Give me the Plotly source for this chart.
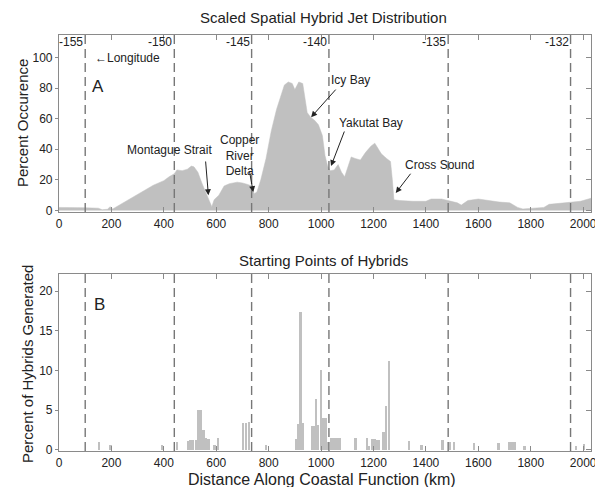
import plotly.graph_objects as go

# ---------------- data ----------------
dist_km = [0, 50, 100, 150, 165, 185, 195, 205, 225, 240, 260, 280, 300, 320, 340, 360, 380, 400,
           420, 440, 450, 470, 490, 505, 515, 530, 545, 560, 575, 583, 592, 610, 630, 650, 680,
           700, 720, 735, 745, 755, 770, 790, 810, 830, 845, 860, 875, 890, 900, 915, 930, 937,
           947, 960, 975, 990, 1005, 1015, 1025, 1035, 1050, 1065, 1078, 1090, 1105, 1115, 1130,
           1150, 1170, 1190, 1205, 1215, 1230, 1250, 1265, 1272, 1278, 1300, 1350, 1400, 1420,
           1460, 1490, 1520, 1535, 1560, 1600, 1640, 1680, 1720, 1750, 1770, 1800, 1850, 1870,
           1900, 1950, 1990, 2030]
occurrence = [2.0, 2.0, 1.8, 1.5, 0.5, 0.8, 2.5, 1.0, 3.0, 5.0, 7.0, 9.0, 11.0, 13.0, 15.0, 16.5,
              18.0, 19.5, 22.0, 24.0, 26.5, 26.0, 27.0, 29.0, 28.5, 25.0, 18.0, 12.0, 5.0, 2.5,
              7.0, 10.0, 16.0, 17.5, 18.5, 18.0, 17.0, 16.0, 11.0, 12.0, 20.0, 34.0, 52.0, 66.0,
              74.0, 82.0, 84.0, 83.0, 79.0, 84.0, 83.0, 74.0, 64.0, 61.0, 59.0, 56.0, 49.0, 36.0,
              29.0, 26.0, 26.5, 30.0, 25.0, 22.0, 30.0, 35.0, 34.0, 33.0, 38.0, 42.0, 44.0, 41.0,
              37.0, 34.0, 32.0, 20.0, 7.0, 6.5, 6.0, 6.0, 7.5, 7.5, 6.0, 5.0, 3.5, 6.5, 7.5, 6.5,
              5.5, 5.0, 2.0, 1.0, 1.3, 2.0, 4.0, 4.5, 5.0, 6.0, 8.0]

start_km = [152, 196, 392, 451, 492, 502, 512, 522, 532, 542, 551, 561, 570, 593, 606, 702, 713,
            724, 790, 905, 912, 921, 930, 966, 974, 981, 989, 999, 1008, 1017, 1024, 1040, 1048,
            1056, 1064, 1072, 1132, 1175, 1182, 1196, 1204, 1212, 1220, 1238, 1248, 1258, 1335,
            1383, 1464, 1493, 1508, 1583, 1677, 1716, 1725, 1733, 1741, 1776, 1973, 2003]
start_pct = [1.0, 0.6, 0.6, 1.0, 1.1, 1.2, 1.2, 1.3, 5.0, 5.0, 2.5, 1.5, 1.4, 0.6, 1.5, 3.4, 3.4,
             3.5, 0.6, 1.4, 3.3, 17.3, 3.4, 3.0, 3.0, 6.4, 3.2, 10.1, 4.0, 4.0, 1.0, 1.5, 1.5,
             1.5, 1.5, 1.5, 1.5, 1.5, 0.5, 1.4, 1.4, 1.3, 1.2, 2.3, 5.5, 11.2, 1.1,
             0.6, 1.2, 1.0, 1.0, 0.9, 0.9, 1.0, 1.0, 1.0, 1.0, 0.5, 0.5, 0.8]

lon_km = [100, 440, 735, 1030, 1485, 1952]
lon_labels = ["-155", "-150", "-145", "-140", "-135", "-132"]

places = ["Montague Strait", "Copper<br>River<br>Delta", "Icy Bay", "Yakutat Bay", "Cross Sound"]
place_text_xy = [(422, 39.5), (688, 36), (1114, 85), (1190, 57), (1452, 30)]
place_tail_xy = [(559, 33), (726, 26.5), (1061, 80), (1091, 52.6), (1346, 25)]
place_head_xy = [(570, 10), (741, 12), (962, 61), (1038, 29), (1285, 11.4)]

# ---------------- figure ----------------
FONT = "Liberation Sans, Arial, sans-serif"
GREY = "#c0c0c0"
AX = "#8a8a8a"
TXT = "#222222"

fig = go.Figure()
fig.add_trace(go.Scatter(x=dist_km, y=occurrence, mode="lines", fill="tozeroy",
                         line=dict(color=GREY, width=0.5), fillcolor=GREY,
                         xaxis="x", yaxis="y", hoverinfo="skip"))
fig.add_trace(go.Bar(x=start_km, y=start_pct, width=9, marker=dict(color=GREY, line=dict(width=0)),
                     xaxis="x2", yaxis="y2", hoverinfo="skip"))

XR = [0, 2030]
domx = [59 / 595, 591 / 595]
domA = [1 - 212 / 487, 1 - 35 / 487]
domB = [1 - 451 / 487, 1 - 274 / 487]
XT = list(range(0, 2001, 200))

common_x = dict(range=XR, tickvals=XT, showgrid=False, zeroline=False, automargin=False,
                showline=True, linecolor=AX, linewidth=1.2, mirror="ticks", ticks="inside",
                ticklen=5, tickwidth=1.2, tickcolor=AX,
                tickfont=dict(family=FONT, size=12, color=TXT),
                domain=domx, ticklabeloverflow="allow")
common_y = dict(showgrid=False, zeroline=False, showline=True, linecolor=AX, linewidth=1.2,
                mirror=True, ticks="outside", ticklen=3, tickcolor=AX, automargin=False,
                tickfont=dict(family=FONT, size=12, color=TXT))
inner = dict(ticks="inside", ticklen=5, tickwidth=1.2, tickcolor=AX, showticklabels=False,
             showgrid=False, zeroline=False, showline=False, automargin=False)

fig.update_layout(
    width=595, height=487, autosize=False,
    margin=dict(l=0, r=0, t=0, b=0, pad=0, autoexpand=False),
    paper_bgcolor="white", plot_bgcolor="white", showlegend=False, bargap=0,
    xaxis=dict(anchor="y", **common_x),
    yaxis=dict(anchor="x", domain=domA, range=[-1, 114.7], tickvals=[0, 20, 40, 60, 80, 100],
               **common_y),
    xaxis2=dict(anchor="y2", **common_x),
    yaxis2=dict(anchor="x2", domain=domB, range=[-0.13, 22.14], tickvals=[0, 5, 10, 15, 20],
                **common_y),
    yaxis3=dict(overlaying="y", anchor="x", side="right", range=[-1, 114.7],
                tickvals=[0, 20, 40, 60, 80, 100], **inner),
    yaxis4=dict(overlaying="y2", anchor="x2", side="right", range=[-0.13, 22.14],
                tickvals=[0, 5, 10, 15, 20], **inner),
)
fig.add_trace(go.Scatter(x=[0], y=[0], mode="markers", marker=dict(opacity=0),
                         xaxis="x", yaxis="y3", hoverinfo="skip"))
fig.add_trace(go.Scatter(x=[0], y=[0], mode="markers", marker=dict(opacity=0),
                         xaxis="x2", yaxis="y4", hoverinfo="skip"))

shapes = []
for xk in lon_km:
    for yr in ["y domain", "y2 domain"]:
        xr = "x" if yr == "y domain" else "x2"
        shapes.append(dict(type="line", xref=xr, yref=yr, x0=xk, x1=xk, y0=0, y1=1,
                           line=dict(color="#777777", width=1.4, dash="9px,5px"), layer="above"))
fig.update_layout(shapes=shapes)

ann = []
for xk, lab in zip(lon_km, lon_labels):
    ann.append(dict(x=xk, y=110.2, xref="x", yref="y", text=lab, showarrow=False,
                    xanchor="right", yanchor="middle", font=dict(family=FONT, size=12, color=TXT)))
ann.append(dict(x=129, y=99.7, xref="x", yref="y", text="\u2190Longitude", showarrow=False,
                xanchor="left", yanchor="middle", font=dict(family=FONT, size=12, color=TXT)))
ann.append(dict(x=118, y=81, xref="x", yref="y", text="A", showarrow=False,
                xanchor="left", yanchor="middle", font=dict(family=FONT, size=17, color=TXT)))
ann.append(dict(x=125, y=18.3, xref="x2", yref="y2", text="B", showarrow=False,
                xanchor="left", yanchor="middle", font=dict(family=FONT, size=17, color=TXT)))
for name, (tx, ty), (ax, ay), (hx, hy) in zip(places, place_text_xy, place_tail_xy, place_head_xy):
    ann.append(dict(x=tx, y=ty, xref="x", yref="y", text=name, showarrow=False,
                    xanchor="center", yanchor="middle",
                    font=dict(family=FONT, size=12, color=TXT)))
    ann.append(dict(x=hx, y=hy, xref="x", yref="y", ax=ax, ay=ay, axref="x", ayref="y",
                    text="", showarrow=True, arrowhead=2, arrowsize=1.2, arrowwidth=1,
                    arrowcolor="#222222"))
ann.append(dict(x=323 / 595, y=1 - 18 / 487, xref="paper", yref="paper",
                text="Scaled Spatial Hybrid Jet Distribution", showarrow=False,
                xanchor="center", yanchor="middle", font=dict(family=FONT, size=15, color=TXT)))
ann.append(dict(x=323 / 595, y=1 - 260 / 487, xref="paper", yref="paper",
                text="Starting Points of Hybrids", showarrow=False,
                xanchor="center", yanchor="middle", font=dict(family=FONT, size=15, color=TXT)))
ann.append(dict(x=322 / 595, y=1 - 479 / 487, xref="paper", yref="paper",
                text="Distance Along Coastal Function (km)", showarrow=False,
                xanchor="center", yanchor="middle",
                font=dict(family=FONT, size=16, color=TXT)))
ann.append(dict(x=22 / 595, y=1 - 123 / 487, xref="paper", yref="paper",
                text="Percent Occurence", showarrow=False, textangle=-90,
                xanchor="center", yanchor="middle", font=dict(family=FONT, size=15, color=TXT)))
ann.append(dict(x=27 / 595, y=1 - 364 / 487, xref="paper", yref="paper",
                text="Percent of Hybrids Generated", showarrow=False, textangle=-90,
                xanchor="center", yanchor="middle", font=dict(family=FONT, size=15, color=TXT)))
fig.update_layout(annotations=ann)

fig.write_html("out.html")
